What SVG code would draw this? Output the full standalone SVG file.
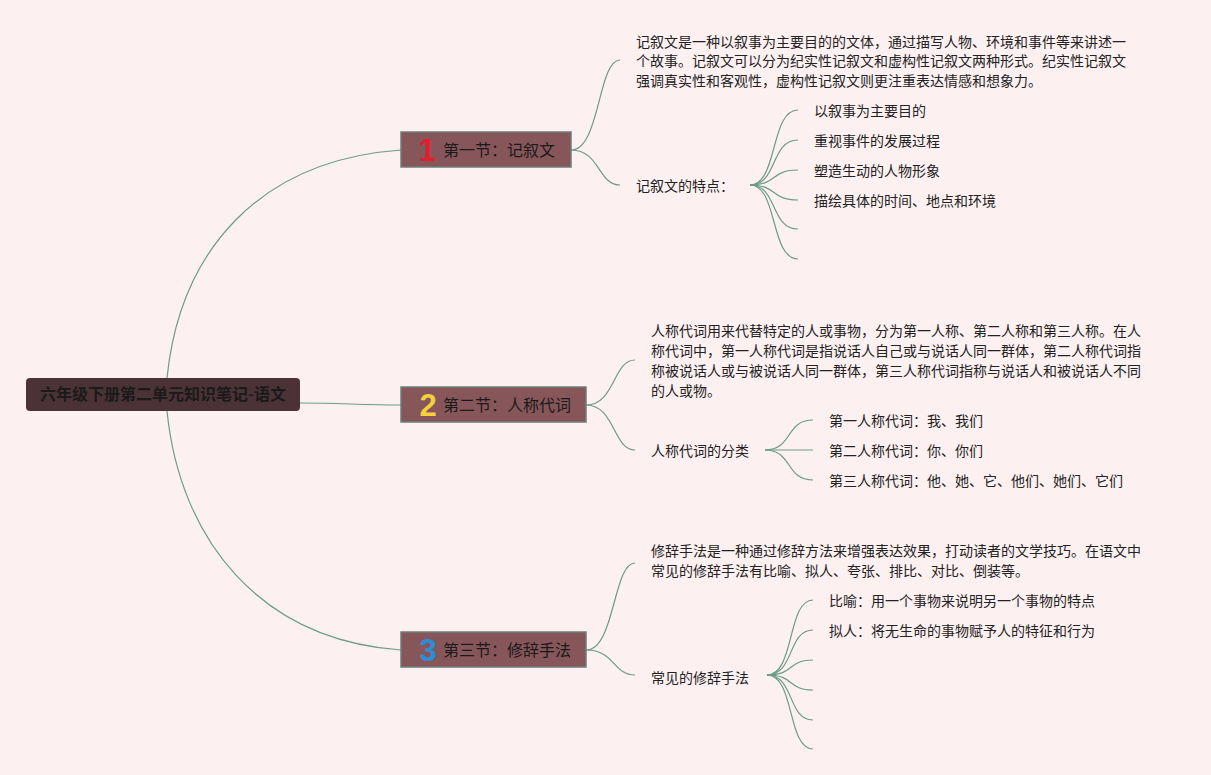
<svg xmlns="http://www.w3.org/2000/svg" width="1211" height="775" viewBox="0 0 1211 775">
<style>
.c{fill:none;stroke:#6b9c88;stroke-width:1.2}
.t{font-family:"Noto Sans CJK SC","Noto Sans",sans-serif;font-size:14px;fill:#222}
.s{font-family:"Noto Sans CJK SC","Noto Sans",sans-serif;font-size:16px;fill:#1a1a1a}
.sec{fill:#87565a;stroke:#6e7e76;stroke-width:1.5}
.num{font-family:"Liberation Sans",Arial,sans-serif;font-size:31px;font-weight:bold}
</style>
<rect width="1211" height="775" fill="#fdf0f1"/>
<g id="connectors">
<path class="c" d="M167,378 C180,250 260,160 401,150"/>
<path class="c" d="M300,403 C340,403 360,405 401,405"/>
<path class="c" d="M167,411 C180,540 260,640 401,650"/>
<path class="c" d="M571,150 C600,150 598,60 620,60"/>
<path class="c" d="M571,150 C600,150 598,185 620,185"/>
<path class="c" d="M750,185 C778,185 770,110 798,110"/>
<path class="c" d="M750,185 C778,185 770,140 798,140"/>
<path class="c" d="M750,185 C778,185 770,170 798,170"/>
<path class="c" d="M750,185 C778,185 770,200 798,200"/>
<path class="c" d="M750,185 C778,185 770,229 798,229"/>
<path class="c" d="M750,185 C778,185 770,259 798,259"/>
<path class="c" d="M586,405 C615,405 613,360 635,360"/>
<path class="c" d="M586,405 C615,405 613,450 635,450"/>
<path class="c" d="M765,450 C793,450 785,420 813,420"/>
<path class="c" d="M765,450 C793,450 785,450 813,450"/>
<path class="c" d="M765,450 C793,450 785,480 813,480"/>
<path class="c" d="M586,650 C615,650 613,563 635,563"/>
<path class="c" d="M586,650 C615,650 613,675 635,675"/>
<path class="c" d="M767,675 C795,675 787,600 813,600"/>
<path class="c" d="M767,675 C795,675 787,630 813,630"/>
<path class="c" d="M767,675 C795,675 787,660 813,660"/>
<path class="c" d="M767,675 C795,675 787,690 813,690"/>
<path class="c" d="M767,675 C795,675 787,720 813,720"/>
<path class="c" d="M767,675 C795,675 787,749 813,749"/>
</g>
<g id="root">
<rect x="26" y="378" width="274" height="33" rx="4" fill="#4b3236"/>
<text x="163" y="400" text-anchor="middle" class="s" font-weight="bold" fill="#111">六年级下册第二单元知识笔记-语文</text>
</g>
<g id="sec1">
<rect class="sec" x="401" y="132" width="170" height="35"/>
<text x="427" y="161" class="num" text-anchor="middle" fill="#e0202e">1</text>
<text x="443" y="156" class="s">第一节：记叙文</text>
</g>
<g id="sec2">
<rect class="sec" x="401" y="387" width="185" height="35"/>
<text x="428" y="416" class="num" text-anchor="middle" fill="#f3d03e">2</text>
<text x="443" y="411" class="s">第二节：人称代词</text>
</g>
<g id="sec3">
<rect class="sec" x="401" y="632" width="185" height="35"/>
<text x="428" y="661" class="num" text-anchor="middle" fill="#2a8fd6">3</text>
<text x="443" y="656" class="s">第三节：修辞手法</text>
</g>
<g id="desc1">
<text x="636" y="47" class="t">记叙文是一种以叙事为主要目的的文体，通过描写人物、环境和事件等来讲述一</text>
<text x="636" y="66" class="t">个故事。记叙文可以分为纪实性记叙文和虚构性记叙文两种形式。纪实性记叙文</text>
<text x="636" y="86" class="t">强调真实性和客观性，虚构性记叙文则更注重表达情感和想象力。</text>
</g>
<g id="feat1"><text x="636" y="191" class="t">记叙文的特点：</text></g>
<g id="f1a"><text x="814" y="116" class="t">以叙事为主要目的</text></g>
<g id="f1b"><text x="814" y="146" class="t">重视事件的发展过程</text></g>
<g id="f1c"><text x="814" y="176" class="t">塑造生动的人物形象</text></g>
<g id="f1d"><text x="814" y="206" class="t">描绘具体的时间、地点和环境</text></g>
<g id="desc2">
<text x="651" y="336" class="t">人称代词用来代替特定的人或事物，分为第一人称、第二人称和第三人称。在人</text>
<text x="651" y="356" class="t">称代词中，第一人称代词是指说话人自己或与说话人同一群体，第二人称代词指</text>
<text x="651" y="376" class="t">称被说话人或与被说话人同一群体，第三人称代词指称与说话人和被说话人不同</text>
<text x="651" y="396" class="t">的人或物。</text>
</g>
<g id="cls2"><text x="651" y="456" class="t">人称代词的分类</text></g>
<g id="p1"><text x="829" y="426" class="t">第一人称代词：我、我们</text></g>
<g id="p2"><text x="829" y="456" class="t">第二人称代词：你、你们</text></g>
<g id="p3"><text x="829" y="486" class="t">第三人称代词：他、她、它、他们、她们、它们</text></g>
<g id="desc3">
<text x="651" y="556" class="t">修辞手法是一种通过修辞方法来增强表达效果，打动读者的文学技巧。在语文中</text>
<text x="651" y="576" class="t">常见的修辞手法有比喻、拟人、夸张、排比、对比、倒装等。</text>
</g>
<g id="cls3"><text x="651" y="683" class="t">常见的修辞手法</text></g>
<g id="r1"><text x="829" y="606" class="t">比喻：用一个事物来说明另一个事物的特点</text></g>
<g id="r2"><text x="829" y="636" class="t">拟人：将无生命的事物赋予人的特征和行为</text></g>
</svg>
